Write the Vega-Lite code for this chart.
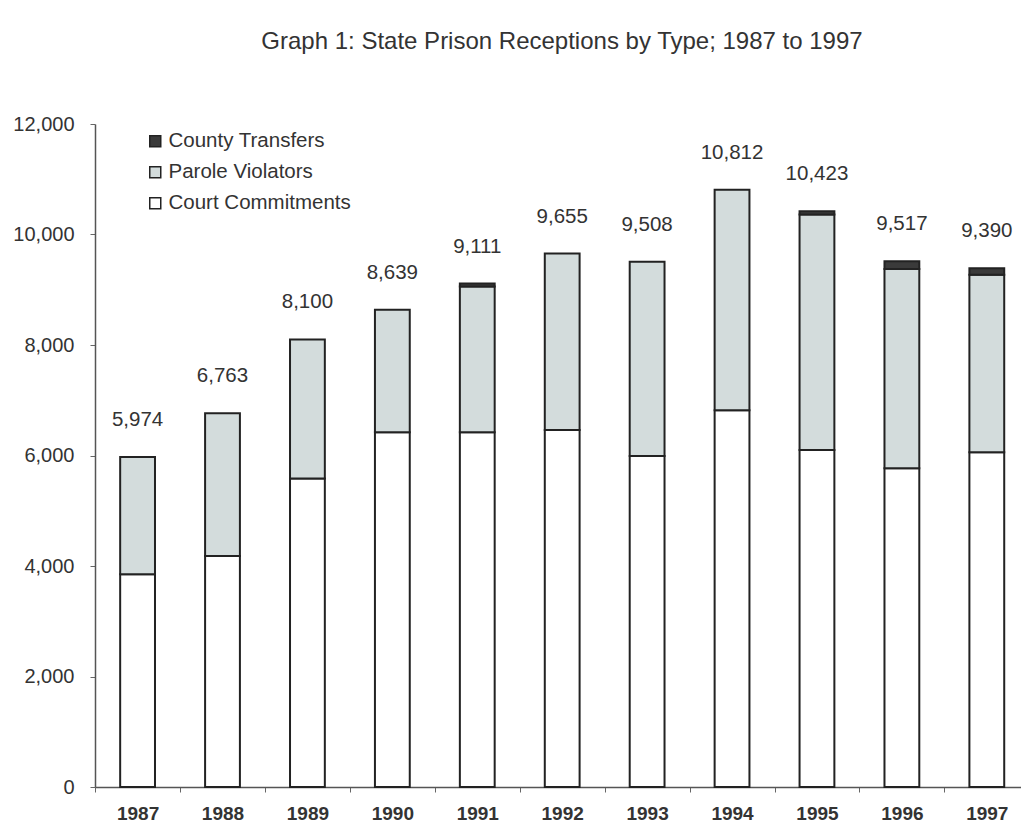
{
  "$schema": "https://vega.github.io/schema/vega-lite/v6.json",
  "autosize": "none",
  "padding": {"left": 95, "top": 124, "right": 0, "bottom": 52},
  "width": 926,
  "height": 663,
  "background": "white",
  "config": {
    "font": "Liberation Sans",
    "view": {"stroke": null}
  },
  "title": {
    "text": "Graph 1: State Prison Receptions by Type; 1987 to 1997",
    "fontSize": 24,
    "fontWeight": "normal",
    "color": "#333333",
    "anchor": "middle",
    "frame": "group",
    "baseline": "alphabetic",
    "offset": 41,
    "dx": 4
  },
  "data": {
    "values": [
      {"year": "1987", "type": "Court Commitments", "count": 3850},
      {"year": "1987", "type": "Parole Violators", "count": 2124},
      {"year": "1988", "type": "Court Commitments", "count": 4180},
      {"year": "1988", "type": "Parole Violators", "count": 2583},
      {"year": "1989", "type": "Court Commitments", "count": 5585},
      {"year": "1989", "type": "Parole Violators", "count": 2515},
      {"year": "1990", "type": "Court Commitments", "count": 6420},
      {"year": "1990", "type": "Parole Violators", "count": 2219},
      {"year": "1991", "type": "Court Commitments", "count": 6420},
      {"year": "1991", "type": "Parole Violators", "count": 2641},
      {"year": "1991", "type": "County Transfers", "count": 50},
      {"year": "1992", "type": "Court Commitments", "count": 6460},
      {"year": "1992", "type": "Parole Violators", "count": 3195},
      {"year": "1993", "type": "Court Commitments", "count": 5990},
      {"year": "1993", "type": "Parole Violators", "count": 3518},
      {"year": "1994", "type": "Court Commitments", "count": 6820},
      {"year": "1994", "type": "Parole Violators", "count": 3992},
      {"year": "1995", "type": "Court Commitments", "count": 6100},
      {"year": "1995", "type": "Parole Violators", "count": 4263},
      {"year": "1995", "type": "County Transfers", "count": 60},
      {"year": "1996", "type": "Court Commitments", "count": 5770},
      {"year": "1996", "type": "Parole Violators", "count": 3607},
      {"year": "1996", "type": "County Transfers", "count": 140},
      {"year": "1997", "type": "Court Commitments", "count": 6060},
      {"year": "1997", "type": "Parole Violators", "count": 3210},
      {"year": "1997", "type": "County Transfers", "count": 120}
    ]
  },
  "encoding": {
    "x": {
      "field": "year",
      "type": "nominal",
      "scale": {"paddingInner": 0.59, "paddingOuter": 0.247, "align": 0.6},
      "axis": {
        "title": null,
        "labelAngle": 0,
        "labelFontSize": 19,
        "labelFontWeight": "bold",
        "labelColor": "#333333",
        "labelPadding": 12,
        "tickSize": 5,
        "tickOffset": -42.45,
        "labelOffset": 42.45,
        "tickColor": "#666666",
        "domainColor": "#555555",
        "domainWidth": 1.5
      }
    }
  },
  "layer": [
    {
      "mark": {"type": "bar", "stroke": "#222222", "strokeWidth": 2},
      "transform": [
        {"calculate": "indexof(['Court Commitments','Parole Violators','County Transfers'], datum.type)", "as": "stackOrder"}
      ],
      "encoding": {
        "y": {
          "field": "count",
          "type": "quantitative",
          "stack": "zero",
          "scale": {"domain": [0, 12000], "nice": false},
          "axis": {
            "title": null,
            "values": [0, 2000, 4000, 6000, 8000, 10000, 12000],
            "format": ",.0f",
            "grid": false,
            "labelFontSize": 20,
            "labelColor": "#333333",
            "labelPadding": 16,
            "tickSize": 5,
            "tickColor": "#666666",
            "domainColor": "#555555",
            "domainWidth": 1.5
          }
        },
        "order": {"field": "stackOrder", "type": "quantitative"},
        "fill": {
          "field": "type",
          "type": "nominal",
          "scale": {
            "domain": ["County Transfers", "Parole Violators", "Court Commitments"],
            "range": ["#3a3a3a", "#d3dcdc", "#ffffff"]
          },
          "legend": {
            "title": null,
            "orient": "none",
            "legendX": 50,
            "legendY": 7,
            "symbolType": "square",
            "symbolSize": 121,
            "symbolStrokeColor": "#222222",
            "symbolStrokeWidth": 1.5,
            "labelFontSize": 20.5,
            "labelColor": "#333333",
            "labelOffset": 3,
            "labelLimit": 400,
            "rowPadding": 10
          }
        }
      }
    },
    {
      "mark": {"type": "text", "baseline": "bottom", "dy": -27, "fontSize": 20.5, "color": "#333333"},
      "transform": [
        {"aggregate": [{"op": "sum", "field": "count", "as": "total"}], "groupby": ["year"]}
      ],
      "encoding": {
        "y": {
          "field": "total",
          "type": "quantitative",
          "axis": {
            "title": null,
            "values": [0, 2000, 4000, 6000, 8000, 10000, 12000],
            "format": ",.0f",
            "grid": false,
            "labelFontSize": 20,
            "labelColor": "#333333",
            "labelPadding": 16,
            "tickSize": 5,
            "tickColor": "#666666",
            "domainColor": "#555555",
            "domainWidth": 1.5
          }
        },
        "text": {"field": "total", "type": "quantitative", "format": ",.0f"}
      }
    }
  ]
}
